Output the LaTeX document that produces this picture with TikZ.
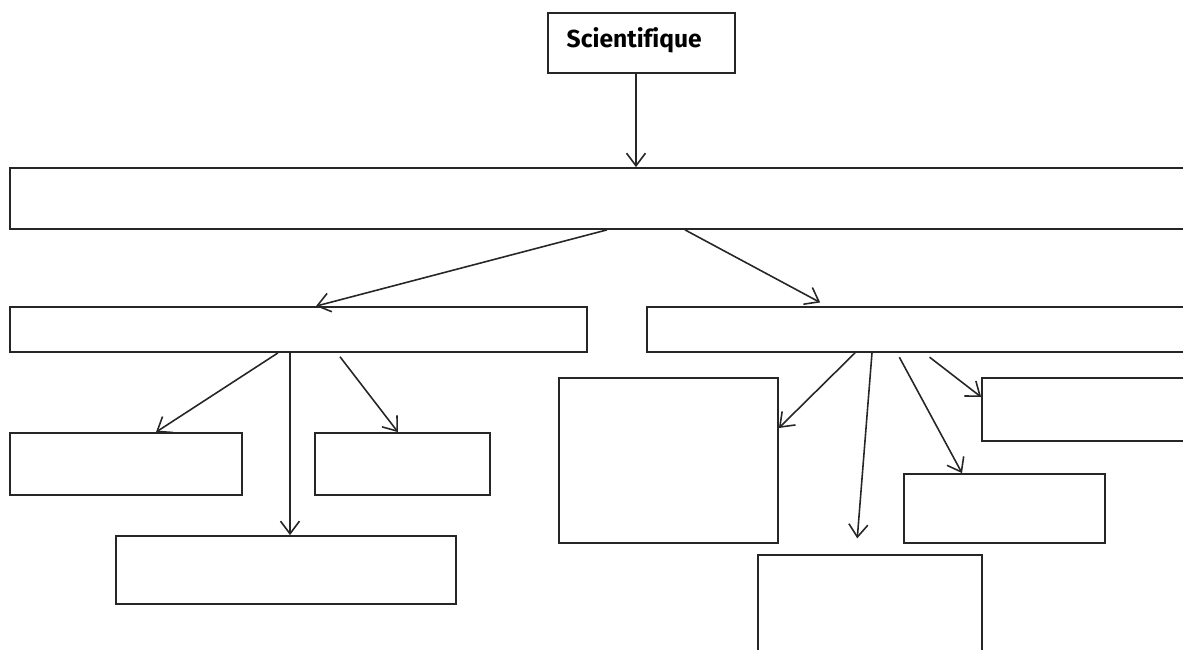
\documentclass[tikz,border=0pt]{standalone}
\usepackage{fontspec}
\setsansfont{Fira Sans}[Ligatures=NoCommon]
\usetikzlibrary{arrows.meta}
\tikzset{
  box/.style={draw=black!85,line width=0.5pt,rectangle,inner sep=0pt},
  arr/.style={draw=black!85,line width=0.45pt,-{Straight Barb[length=3.6pt,width=5.4pt]}},
}
\begin{document}
\begin{tikzpicture}
\useasboundingbox (0,0) rectangle (11.83,-6.49);
\clip (0,0) rectangle (11.83,-6.49);

\begin{scope}[every node/.style={box}]
    \node[minimum width=1.87cm,minimum height=0.60cm] (sci) at (6.415,-0.43) {};
    \node[minimum width=11.90cm,minimum height=0.61cm] (bar) at (6.05,-1.985) {};
    \node[minimum width=5.77cm,minimum height=0.45cm] (lbar) at (2.985,-3.295) {};
    \node[minimum width=5.53cm,minimum height=0.45cm] (rbar) at (9.235,-3.295) {};
    \node[minimum width=2.32cm,minimum height=0.62cm] (la) at (1.26,-4.64) {};
    \node[minimum width=1.75cm,minimum height=0.62cm] (lb) at (4.025,-4.64) {};
    \node[minimum width=3.40cm,minimum height=0.68cm] (lc) at (2.86,-5.70) {};
    \node[minimum width=2.19cm,minimum height=1.65cm] (rd) at (6.685,-4.605) {};
    \node[minimum width=2.18cm,minimum height=0.63cm] (re) at (10.91,-4.095) {};
    \node[minimum width=2.01cm,minimum height=0.69cm] (rf) at (10.045,-5.085) {};
    \node[minimum width=2.24cm,minimum height=1.25cm] (rg) at (8.70,-6.175) {};
\end{scope}

\node[anchor=west,inner sep=0pt,font=\sffamily\bfseries\fontsize{7}{8}\selectfont] (scitext) at (5.66,-0.40) {Scientifique};

\draw[arr] (sci.south -| 6.36,0) -- (bar.north -| 6.36,0);
\draw[arr] (bar.south -| 6.07,0) -- (lbar.north -| 3.16,0);
\draw[arr,shorten >=2.2pt] (bar.south -| 6.85,0) -- (rbar.north -| 8.27,0);

\draw[arr] (lbar.south -| 2.78,0) -- (la.north -| 1.56,0);
\draw[arr] (lbar.south -| 2.90,0) -- (lc.north -| 2.90,0);
\draw[arr,shorten <=1.4pt] (lbar.south -| 3.37,0) -- (lb.north -| 3.98,0);

\draw[arr] (rbar.south -| 8.55,0) -- (rd.east |- 0,-4.28);
\draw[arr,shorten >=4.5pt] (rbar.south -| 8.72,0) -- (rg.north -| 8.56,0);
\draw[arr,shorten <=1.4pt] (rbar.south -| 8.97,0) -- (rf.north -| 9.62,0);
\draw[arr,shorten <=2pt] (rbar.south -| 9.24,0) -- (re.west |- 0,-3.97);
\end{tikzpicture}
\end{document}
